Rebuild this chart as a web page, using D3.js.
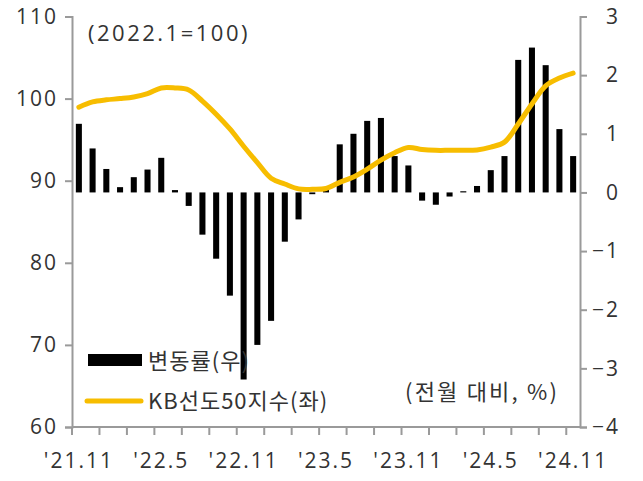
<!DOCTYPE html>
<html>
<head>
<meta charset="utf-8">
<script src="https://cdn.jsdelivr.net/npm/d3@7"></script>
<style>
  body { margin: 0; background: #fff; }
  text { font-family: "Noto Sans CJK KR", "Noto Sans", sans-serif; fill: #333; }
  .num { font-family: "Open Sans", "Noto Sans", sans-serif; }
</style>
</head>
<body>
<script>
// months '21.11 ~ '24.11
var months = ["21.11","21.12","22.1","22.2","22.3","22.4","22.5","22.6","22.7","22.8","22.9","22.10",
  "22.11","22.12","23.1","23.2","23.3","23.4","23.5","23.6","23.7","23.8","23.9","23.10",
  "23.11","23.12","24.1","24.2","24.3","24.4","24.5","24.6","24.7","24.8","24.9","24.10","24.11"];

// 변동률 (right axis, %)
var changeRate = [1.17, 0.75, 0.40, 0.09, 0.26, 0.39, 0.59, 0.04, -0.23, -0.72, -1.13, -1.76,
  -3.19, -2.60, -2.19, -0.84, -0.46, -0.03, 0.05, 0.82, 1.00, 1.22, 1.27, 0.62,
  0.46, -0.14, -0.21, -0.07, 0.02, 0.11, 0.38, 0.62, 2.26, 2.47, 2.17, 1.08, 0.62];

// KB선도50지수 (left axis)
var kbIndex = [98.95, 99.6, 99.85, 100.0, 100.2, 100.6, 101.3, 101.3, 101.05, 99.7, 98.1, 96.3,
  94.2, 92.2, 90.3, 89.6, 89.0, 88.95, 89.05, 89.8, 90.45, 91.4, 92.5, 93.4,
  94.05, 93.8, 93.7, 93.7, 93.7, 93.75, 94.1, 94.7, 96.9, 99.35, 101.55, 102.5, 103.1];

var xLabels = ["'21.11","'22.5","'22.11","'23.5","'23.11","'24.5","'24.11"];
var leftTicks = [60, 70, 80, 90, 100, 110];
var rightTicks = [-4, -3, -2, -1, 0, 1, 2, 3];

var width = 643, height = 481;
var margin = {left: 72, right: 63, top: 16.5, bottom: 54};
var plotW = width - margin.left - margin.right;
var plotH = height - margin.top - margin.bottom;

var svg = d3.select("body").append("svg")
    .attr("width", width)
    .attr("height", height);

var x = d3.scaleBand()
    .domain(months)
    .range([margin.left, margin.left + plotW])
    .paddingInner(0.56)
    .paddingOuter(0.28);

var yL = d3.scaleLinear().domain([60, 110]).range([margin.top + plotH, margin.top]);
var yR = d3.scaleLinear().domain([-4, 3]).range([margin.top + plotH, margin.top]);

var axisColor = "#9a9a9a";
var step = x.step();
var fs = 22;

// bars
svg.append("g").selectAll("rect")
  .data(changeRate)
  .enter().append("rect")
    .attr("x", function(d, i) { return x(months[i]); })
    .attr("width", x.bandwidth())
    .attr("y", function(d) { return yR(Math.max(0, d)); })
    .attr("height", function(d) { return Math.abs(yR(d) - yR(0)); })
    .attr("fill", "#000");

// line
var line = d3.line()
    .x(function(d, i) { return x(months[i]) + x.bandwidth() / 2; })
    .y(function(d) { return yL(d); })
    .curve(d3.curveCatmullRom.alpha(0.5));

svg.append("path")
    .datum(kbIndex)
    .attr("d", line)
    .attr("fill", "none")
    .attr("stroke", "#F7BD00")
    .attr("stroke-width", 5)
    .attr("stroke-linecap", "round");

// left axis
var gL = svg.append("g")
    .attr("transform", "translate(" + margin.left + ",0)")
    .call(d3.axisLeft(yL).tickValues(leftTicks).tickSize(7).tickPadding(7));
// right axis
var gR = svg.append("g")
    .attr("transform", "translate(" + (margin.left + plotW) + ",0)")
    .call(d3.axisRight(yR).tickValues(rightTicks).tickSize(7).tickPadding(33)
      .tickFormat(function(d) { return d < 0 ? "\u2212" + Math.abs(d) : d; }));
gR.selectAll(".tick text").attr("text-anchor", "end");

// bottom axis (ticks every 2 months at category boundaries)
var gB = svg.append("g").attr("class", "xaxis");
gB.append("line")
    .attr("x1", margin.left).attr("x2", margin.left + plotW)
    .attr("y1", margin.top + plotH).attr("y2", margin.top + plotH)
    .attr("stroke", axisColor).attr("stroke-width", 2);
gB.selectAll("line.tk")
  .data(months.filter(function(d, i) { return i % 2 === 0; }))
  .enter().append("line")
    .attr("class", "tk")
    .attr("x1", function(d) { return x(d) - (step - x.bandwidth()) / 2; })
    .attr("x2", function(d) { return x(d) - (step - x.bandwidth()) / 2; })
    .attr("y1", margin.top + plotH).attr("y2", margin.top + plotH + 8)
    .attr("stroke", axisColor).attr("stroke-width", 2);
gB.selectAll("text")
  .data(xLabels)
  .enter().append("text")
    .attr("class", "num")
    .attr("x", function(d, i) { return x(months[i * 6]) + x.bandwidth() / 2; })
    .attr("y", 468)
    .attr("text-anchor", "middle")
    .attr("font-size", 21)
    .attr("letter-spacing", 2)
    .text(function(d) { return d; });

[gL, gR].forEach(function(g) {
  g.select(".domain").attr("stroke", axisColor).attr("stroke-width", 2);
  g.selectAll(".tick line").attr("stroke", axisColor).attr("stroke-width", 2);
  g.selectAll(".tick text").attr("font-size", 21).attr("fill", "#333")
    .attr("letter-spacing", 2)
    .style("font-family", "'Open Sans', sans-serif");
});

// annotations
svg.append("text").attr("class", "num").attr("x", 88).attr("y", 41).attr("font-size", fs)
    .attr("letter-spacing", 2.5).text("(2022.1=100)");
svg.append("text").attr("x", 405).attr("y", 400).attr("font-size", fs)
    .attr("letter-spacing", 2.2).text("(전월 대비, %)");

// legend
svg.append("rect").attr("x", 88).attr("y", 354).attr("width", 54).attr("height", 12).attr("fill", "#000");
svg.append("text").attr("x", 148).attr("y", 369).attr("font-size", fs)
    .attr("letter-spacing", 1).text("변동률(우)");
svg.append("line").attr("x1", 87).attr("x2", 141).attr("y1", 401).attr("y2", 401)
    .attr("stroke", "#F7BD00").attr("stroke-width", 5).attr("stroke-linecap", "round");
svg.append("text").attr("x", 148).attr("y", 409).attr("font-size", fs)
    .attr("letter-spacing", 1).text("KB선도50지수(좌)");
</script>
</body>
</html>
